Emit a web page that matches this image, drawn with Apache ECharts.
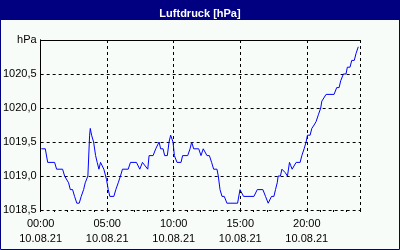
<!DOCTYPE html>
<html>
<head>
<meta charset="utf-8">
<script src="https://cdn.jsdelivr.net/npm/echarts@6/dist/echarts.min.js"></script>
<style>
html,body{margin:0;padding:0;background:#f8fcf8;}
#c{width:400px;height:250px;}
</style>
</head>
<body>
<div id="c"></div>
<script>
// Data (hours since 00:00, pressure in hPa)
var hours = [0.05,0.35,0.53,1.05,1.2,1.65,1.8,2.1,2.23,2.4,2.55,2.72,2.9,3.05,3.23,3.35,3.55,3.6,3.68,3.73,3.83,3.98,4.13,4.25,4.38,4.5,4.63,4.75,4.88,4.95,5.08,5.2,5.5,5.65,5.83,6.0,6.15,6.58,6.75,7.2,7.45,7.52,7.65,7.75,8.05,8.15,8.45,8.65,8.9,9.02,9.2,9.32,9.52,9.65,9.77,9.85,9.95,10.05,10.25,10.55,10.67,11.05,11.23,11.35,11.5,11.88,12.05,12.22,12.35,12.5,12.68,12.85,13.0,13.25,13.35,13.48,13.63,13.8,14.0,14.8,14.98,15.13,15.25,15.35,16.03,16.28,16.7,16.9,17.1,17.2,17.35,17.53,17.65,17.78,17.85,18.02,18.13,18.38,18.55,18.7,18.8,18.9,19.0,19.2,19.5,19.63,19.8,19.95,20.05,20.25,20.38,20.55,20.7,20.87,21.05,21.13,21.25,21.45,22.05,22.25,22.43,22.55,22.75,22.95,23.05,23.25,23.38,23.57,23.7,23.87];
var pressure = [1019.4,1019.4,1019.2,1019.2,1019.1,1019.1,1019.0,1018.9,1018.8,1018.8,1018.7,1018.6,1018.6,1018.7,1018.8,1018.9,1019.0,1019.0,1019.6,1019.7,1019.6,1019.5,1019.3,1019.2,1019.1,1019.2,1019.2,1019.1,1019.0,1018.95,1018.8,1018.7,1018.7,1018.8,1018.9,1019.0,1019.1,1019.1,1019.2,1019.2,1019.1,1019.1,1019.2,1019.2,1019.1,1019.3,1019.3,1019.4,1019.5,1019.4,1019.4,1019.3,1019.3,1019.5,1019.6,1019.6,1019.5,1019.3,1019.2,1019.2,1019.3,1019.3,1019.4,1019.5,1019.4,1019.4,1019.3,1019.4,1019.4,1019.3,1019.3,1019.2,1019.1,1019.1,1019.0,1018.8,1018.7,1018.7,1018.6,1018.6,1018.8,1018.8,1018.7,1018.7,1018.7,1018.8,1018.8,1018.7,1018.6,1018.6,1018.7,1018.7,1018.8,1018.9,1019.0,1019.0,1019.1,1019.05,1019.0,1019.2,1019.15,1019.1,1019.1,1019.2,1019.2,1019.3,1019.4,1019.5,1019.6,1019.6,1019.7,1019.75,1019.8,1019.9,1020.0,1020.1,1020.1,1020.2,1020.2,1020.3,1020.3,1020.4,1020.5,1020.5,1020.6,1020.6,1020.7,1020.7,1020.8,1020.9];
var title = 'Luftdruck [hPa]';
var unitLabel = 'hPa';
var dateLabel = '10.08.21';
var yMin = 1018.5, yMax = 1021.0, yStep = 0.5;
var xMin = 0, xMax = 24, xStep = 5;

var seriesData = hours.map(function (h, i) { return [h, pressure[i]]; });
function pad(n){ return (n < 10 ? '0' : '') + n; }
var font = '"Liberation Sans Narrow","Liberation Sans",Arial,sans-serif';

var chart = echarts.init(document.getElementById('c'), null, {renderer: 'canvas'});
chart.setOption({
  backgroundColor: '#f8fcf8',
  animation: false,
  title: {
    text: title, left: 'center', top: 3,
    textStyle: {color: '#ffffff', fontSize: 11, fontWeight: 'bold', fontFamily: '"Liberation Sans",Arial,sans-serif'}
  },
  graphic: [
    {type: 'rect', z: -1, shape: {x: 0, y: 0, width: 400, height: 20}, style: {fill: '#000080'}},
    {type: 'rect', z: -1, shape: {x: 0.5, y: 0.5, width: 399, height: 249}, style: {fill: 'none', stroke: '#000080', lineWidth: 1}}
  ],
  grid: {left: 40, right: 40, top: 40, bottom: 40},
  xAxis: [
    {
      type: 'value', min: xMin, max: xMax, interval: xStep,
      axisLine: {show: false},
      axisTick: {show: false},
      axisLabel: {
        margin: 6, color: '#000', fontSize: 11, lineHeight: 15, fontFamily: font,
        formatter: function (v) { return v >= xMax ? '' : pad(v) + ':00\n' + dateLabel; }
      },
      splitLine: {show: true, lineStyle: {color: '#000', type: [3, 3], width: 1}}
    },
    {
      type: 'value', position: 'top', min: xMin, max: xMax, interval: xStep,
      axisLine: {show: true, lineStyle: {color: '#000', width: 1}},
      axisTick: {show: false}, axisLabel: {show: false}, splitLine: {show: false}
    },
    {
      type: 'value', position: 'bottom', min: xMin, max: xMax, interval: 1,
      axisLine: {show: false},
      axisTick: {show: true, inside: false, length: 2, lineStyle: {color: '#000'}},
      axisLabel: {show: false}, splitLine: {show: false}
    }
  ],
  yAxis: [
    {
      type: 'value', min: yMin, max: yMax, interval: yStep,
      axisLine: {show: true, lineStyle: {color: '#000', width: 1}},
      axisTick: {show: false},
      axisLabel: {
        margin: 4, color: '#000', fontSize: 11, fontFamily: font,
        formatter: function (v) { return v >= yMax ? unitLabel : v.toFixed(1).replace('.', ','); }
      },
      splitLine: {show: true, lineStyle: {color: '#000', type: [3, 3], width: 1}}
    },
    {
      type: 'value', position: 'right', min: yMin, max: yMax, interval: yStep,
      axisLine: {show: true, lineStyle: {color: '#000', width: 1}},
      axisTick: {show: false}, axisLabel: {show: false}, splitLine: {show: false}
    }
  ],
  series: [{
    type: 'line', data: seriesData, xAxisIndex: 0, yAxisIndex: 0,
    showSymbol: false, symbol: 'none', smooth: false,
    lineStyle: {color: '#0000ff', width: 1}
  }]
});
</script>
</body>
</html>
